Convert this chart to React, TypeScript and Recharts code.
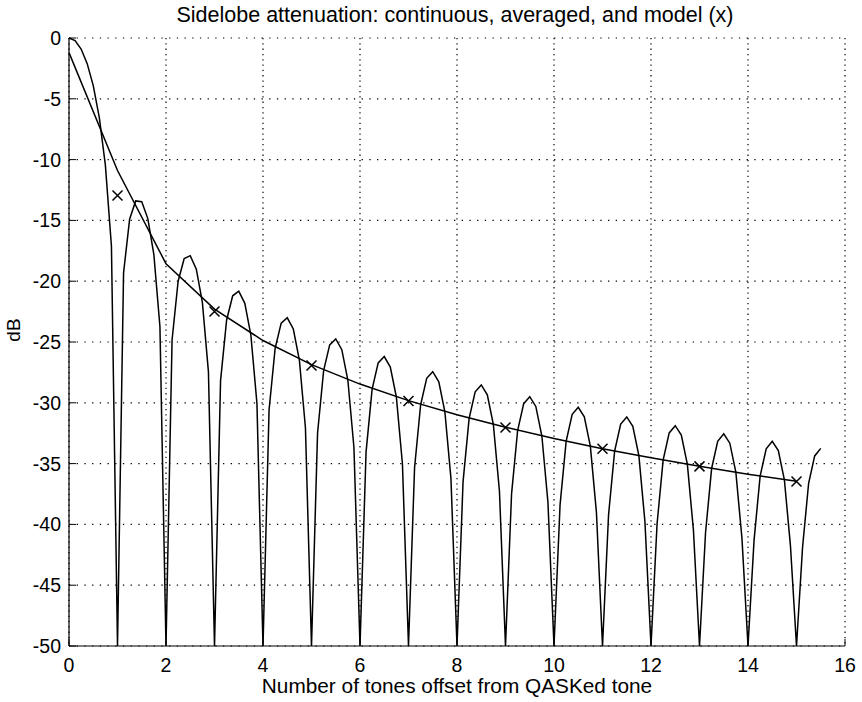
import React from "react";
import { ComposedChart, Line, Scatter, XAxis, YAxis, CartesianGrid } from "recharts";

// tone offsets where the continuous spectrum was sampled (1/8 tone steps)
const toneOffsets = [
  0, 0.125, 0.25, 0.375, 0.5, 0.625, 0.75, 0.875,
  1, 1.125, 1.25, 1.375, 1.5, 1.625, 1.75, 1.875,
  2, 2.125, 2.25, 2.375, 2.5, 2.625, 2.75, 2.875,
  3, 3.125, 3.25, 3.375, 3.5, 3.625, 3.75, 3.875,
  4, 4.125, 4.25, 4.375, 4.5, 4.625, 4.75, 4.875,
  5, 5.125, 5.25, 5.375, 5.5, 5.625, 5.75, 5.875,
  6, 6.125, 6.25, 6.375, 6.5, 6.625, 6.75, 6.875,
  7, 7.125, 7.25, 7.375, 7.5, 7.625, 7.75, 7.875,
  8, 8.125, 8.25, 8.375, 8.5, 8.625, 8.75, 8.875,
  9, 9.125, 9.25, 9.375, 9.5, 9.625, 9.75, 9.875,
  10, 10.125, 10.25, 10.375, 10.5, 10.625, 10.75, 10.875,
  11, 11.125, 11.25, 11.375, 11.5, 11.625, 11.75, 11.875,
  12, 12.125, 12.25, 12.375, 12.5, 12.625, 12.75, 12.875,
  13, 13.125, 13.25, 13.375, 13.5, 13.625, 13.75, 13.875,
  14, 14.125, 14.25, 14.375, 14.5, 14.625, 14.75, 14.875,
  15, 15.125, 15.25, 15.375, 15.5,
];

// continuous sidelobe level (dB), floored at -50 at the nulls
const continuousDb = [
  0, -0.22, -0.91, -2.11, -3.92, -6.55, -10.45, -17.13,
  -50, -19.31, -14.89, -13.4, -13.47, -14.85, -17.81, -23.75,
  -50, -24.83, -20.0, -18.14, -17.9, -19.01, -21.74, -27.46,
  -50, -28.18, -23.19, -21.2, -20.82, -21.82, -24.43, -30.05,
  -50, -30.59, -25.52, -23.45, -23.01, -23.93, -26.49, -32.05,
  -50, -32.48, -27.36, -25.24, -24.75, -25.63, -28.15, -33.67,
  -50, -34.03, -28.87, -26.72, -26.2, -27.06, -29.54, -35.03,
  -50, -35.34, -30.16, -27.99, -27.44, -28.28, -30.74, -36.21,
  -50, -36.48, -31.28, -29.09, -28.53, -29.35, -31.79, -37.25,
  -50, -37.49, -32.28, -30.07, -29.5, -30.3, -32.73, -38.18,
  -50, -38.39, -33.17, -30.95, -30.37, -31.16, -33.58, -39.02,
  -50, -39.21, -33.98, -31.75, -31.16, -31.94, -34.35, -39.78,
  -50, -39.96, -34.72, -32.48, -31.88, -32.66, -35.06, -40.48,
  -50, -40.65, -35.4, -33.16, -32.55, -33.32, -35.72, -41.13,
  -50, -41.29, -36.03, -33.78, -33.17, -33.93, -36.33, -41.74,
  -50, -41.88, -36.62, -34.37, -33.75,
];

// averaged level per whole tone
const avgTones = [0, 1, 2, 3, 4, 5, 6, 7, 8, 9, 10, 11, 12, 13, 14, 15];
const avgDb = [
  -1.2, -10.9, -18.56, -22.3, -24.88, -26.86, -28.46, -29.82,
  -30.98, -32.01, -32.93, -33.77, -34.52, -35.22, -35.87, -36.46,
];

// model points (x markers)
const modelTones = [1, 3, 5, 7, 9, 11, 13, 15];
const modelDb = [-12.95, -22.49, -26.93, -29.85, -32.03, -33.78, -35.23, -36.47];

const xTicks = [0, 2, 4, 6, 8, 10, 12, 14, 16];
const yTicks = [0, -5, -10, -15, -20, -25, -30, -35, -40, -45, -50];

const continuousData = toneOffsets.map((x, i) => ({ x, db: continuousDb[i] }));
const avgData = avgTones.map((x, i) => ({ x, db: avgDb[i] }));
const modelData = modelTones.map((x, i) => ({ x, db: modelDb[i] }));

const FONT = '"Liberation Sans", Arial, Helvetica, sans-serif';
const TICK_LEN = 7;

const BottomTick = ({ x, y, payload }: any) => (
  <g>
    <line x1={x} y1={y} x2={x} y2={y - TICK_LEN} stroke="#000" strokeWidth={1} />
    <text x={x} y={y + 26} textAnchor="middle" fontSize={19.5} fontFamily={FONT} fill="#000">
      {payload.value}
    </text>
  </g>
);

const TopTick = ({ x, y }: any) => (
  <line x1={x} y1={y} x2={x} y2={y + TICK_LEN} stroke="#000" strokeWidth={1} />
);

const LeftTick = ({ x, y, payload }: any) => (
  <g>
    <line x1={x} y1={y} x2={x + TICK_LEN} y2={y} stroke="#000" strokeWidth={1} />
    <text x={x - 8} y={y + 7} textAnchor="end" fontSize={19.5} fontFamily={FONT} fill="#000">
      {payload.value}
    </text>
  </g>
);

const RightTick = ({ x, y }: any) => (
  <line x1={x} y1={y} x2={x - TICK_LEN} y2={y} stroke="#000" strokeWidth={1} />
);

const CrossMark = ({ cx, cy }: any) => (
  <path
    d={`M${cx - 5},${cy - 5}L${cx + 5},${cy + 5}M${cx - 5},${cy + 5}L${cx + 5},${cy - 5}`}
    stroke="#000"
    strokeWidth={1.5}
    fill="none"
  />
);

export default function App() {
  return (
    <div style={{ position: "absolute", left: 0, top: 0, width: 862, height: 702, background: "#fff" }}>
      <ComposedChart width={862} height={702} margin={{ top: 38, right: 17, bottom: 0, left: 0 }}>
        {/* matlab-style dotted grid, the scan has wider dot spacing along x than along y */}
        <CartesianGrid
          xAxisId="bottom"
          yAxisId="left"
          vertical={false}
          stroke="#000"
          strokeDasharray="1.3 6.4"
          strokeWidth={1.2}
        />
        <CartesianGrid
          xAxisId="bottom"
          yAxisId="left"
          horizontal={false}
          stroke="#000"
          strokeDasharray="1.3 4"
          strokeWidth={1.2}
        />
        <XAxis
          xAxisId="bottom"
          type="number"
          dataKey="x"
          domain={[0, 16]}
          ticks={xTicks}
          interval={0}
          height={56}
          tickSize={0}
          tickMargin={0}
          tickLine={false}
          axisLine={{ stroke: "#000", strokeWidth: 1.2 }}
          tick={BottomTick}
        />
        <XAxis
          xAxisId="top"
          orientation="top"
          type="number"
          dataKey="x"
          domain={[0, 16]}
          ticks={xTicks}
          interval={0}
          height={0}
          tickSize={0}
          tickMargin={0}
          tickLine={false}
          axisLine={{ stroke: "#000", strokeWidth: 1.2 }}
          tick={TopTick}
        />
        <YAxis
          yAxisId="left"
          type="number"
          domain={[-50, 0]}
          ticks={yTicks}
          interval={0}
          width={69}
          tickSize={0}
          tickMargin={0}
          tickLine={false}
          axisLine={{ stroke: "#000", strokeWidth: 1.2 }}
          tick={LeftTick}
        />
        <YAxis
          yAxisId="right"
          orientation="right"
          type="number"
          domain={[-50, 0]}
          ticks={yTicks}
          interval={0}
          width={0}
          tickSize={0}
          tickMargin={0}
          tickLine={false}
          axisLine={{ stroke: "#000", strokeWidth: 1.2 }}
          tick={RightTick}
        />
        <Line
          xAxisId="bottom"
          yAxisId="left"
          data={continuousData}
          dataKey="db"
          type="linear"
          stroke="#000"
          strokeWidth={1.5}
          dot={false}
          isAnimationActive={false}
        />
        <Line
          xAxisId="bottom"
          yAxisId="left"
          data={avgData}
          dataKey="db"
          type="linear"
          stroke="#000"
          strokeWidth={1.5}
          dot={false}
          isAnimationActive={false}
        />
        <Scatter
          xAxisId="bottom"
          yAxisId="left"
          data={modelData}
          dataKey="db"
          shape={CrossMark}
          isAnimationActive={false}
        />
      </ComposedChart>
      <svg
        width={862}
        height={702}
        style={{ position: "absolute", left: 0, top: 0, pointerEvents: "none" }}
      >
        <text x={455} y={22} textAnchor="middle" fontSize={21.5} fontFamily={FONT} fill="#000">
          Sidelobe attenuation: continuous, averaged, and model (x)
        </text>
        <text x={457} y={693} textAnchor="middle" fontSize={20.8} fontFamily={FONT} fill="#000">
          Number of tones offset from QASKed tone
        </text>
        <text
          transform="translate(20,330) rotate(-90)"
          textAnchor="middle"
          fontSize={19}
          fontFamily={FONT}
          fill="#000"
        >
          dB
        </text>
      </svg>
    </div>
  );
}
